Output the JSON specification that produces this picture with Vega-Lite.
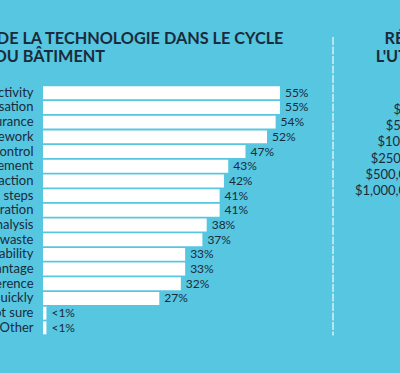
{
  "$schema": "https://vega.github.io/schema/vega-lite/v6.json",
  "background": "#57c6e0",
  "padding": {"left": -100, "top": 30, "right": -253, "bottom": 37},
  "spacing": 9,
  "config": {
    "view": {"stroke": null},
    "font": "Lato",
    "title": {"font": "Lato", "fontWeight": "bold", "fontSize": 16.25, "color": "#1a2b3c", "lineHeight": 18}
  },
  "hconcat": [
    {
      "width": 280,
      "height": 297.3,
      "title": {
        "text": ["USAGE DE LA TECHNOLOGIE DANS LE CYCLE", "DE VIE DU BÂTIMENT"],
        "anchor": "start",
        "frame": "group",
        "dx": -103,
        "offset": -28
      },
      "data": {
        "values": [
          {"benefit": "Increase productivity", "pct": 55, "label": "55%"},
          {"benefit": "Improved visualisation", "pct": 55, "label": "55%"},
          {"benefit": "Quality assurance", "pct": 54, "label": "54%"},
          {"benefit": "Reduce rework", "pct": 52, "label": "52%"},
          {"benefit": "Better cost control", "pct": 47, "label": "47%"},
          {"benefit": "Project management", "pct": 43, "label": "43%"},
          {"benefit": "Client satisfaction", "pct": 42, "label": "42%"},
          {"benefit": "Fewer process steps", "pct": 41, "label": "41%"},
          {"benefit": "Better collaboration", "pct": 41, "label": "41%"},
          {"benefit": "Data analysis", "pct": 38, "label": "38%"},
          {"benefit": "Reduce waste", "pct": 37, "label": "37%"},
          {"benefit": "Sustainability", "pct": 33, "label": "33%"},
          {"benefit": "Competitive advantage", "pct": 33, "label": "33%"},
          {"benefit": "Client preference", "pct": 32, "label": "32%"},
          {"benefit": "Build more quickly", "pct": 27, "label": "27%"},
          {"benefit": "Not sure", "pct": 0.8, "label": "<1%"},
          {"benefit": "Other", "pct": 0.8, "label": "<1%"}
        ]
      },
      "encoding": {
        "y": {
          "field": "benefit", "type": "nominal", "sort": null,
          "scale": {"range": [49.3, 297.3], "paddingInner": 0.12, "paddingOuter": 0},
          "axis": {"title": null, "ticks": false, "domain": false, "labelFontSize": 13, "labelColor": "#1a2b3c", "labelPadding": 10, "labelFont": "Lato", "labelLimit": 0}
        },
        "x": {
          "field": "pct", "type": "quantitative",
          "scale": {"domain": [0, 65], "nice": false},
          "axis": null
        }
      },
      "layer": [
        {"mark": {"type": "bar", "color": "#ffffff"}},
        {"mark": {"type": "text", "align": "left", "baseline": "middle", "dx": 5, "fontSize": 12, "color": "#1a2b3c", "font": "Lato"},
         "encoding": {"text": {"field": "label"}}}
      ]
    },
    {
      "width": 12,
      "height": 298.4,
      "data": {"values": [{"sep": 0}]},
      "mark": {"type": "rule", "color": "#d4f1f8", "strokeWidth": 1.5, "strokeDash": [8, 1.5]},
      "encoding": {"x": {"field": "sep", "type": "quantitative", "scale": {"domain": [0, 1]}, "axis": null}}
    },
    {
      "width": 96,
      "height": 162.1,
      "title": {
        "text": ["RÉPARTITION DU BUDGET SELON", "L'UTILISATION DE LA TECHNOLOGIE"],
        "anchor": "middle",
        "offset": -28
      },
      "data": {
        "values": [
          {"budget": "$1K – $49K"},
          {"budget": "$50K – $99K"},
          {"budget": "$100K–$249K"},
          {"budget": "$250K – $499K"},
          {"budget": "$500,000 – $1M"},
          {"budget": "$1,000,000 – $5M"}
        ]
      },
      "mark": {"type": "point", "opacity": 0},
      "encoding": {
        "y": {
          "field": "budget", "type": "nominal", "sort": null,
          "scale": {"type": "band", "range": [64.9, 162.1], "paddingInner": 0, "paddingOuter": 0},
          "axis": {"title": null, "ticks": false, "domain": false, "labelFontSize": 13, "labelColor": "#1a2b3c", "labelPadding": 4, "labelFont": "Lato", "labelLimit": 0}
        }
      }
    }
  ]
}
